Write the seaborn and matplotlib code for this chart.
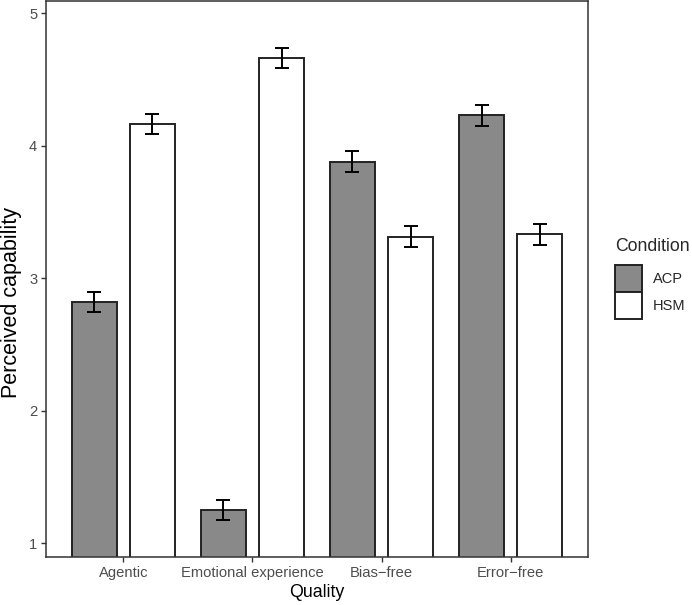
import matplotlib
matplotlib.use("Agg")
import matplotlib.pyplot as plt
import matplotlib.patches as mpatches
import seaborn as sns
import pandas as pd

qualities = ["Agentic", "Emotional experience", "Bias\u2212free", "Error\u2212free"]
conditions = ["ACP", "HSM"]
acp_means = [2.82, 1.25, 3.88, 4.23]
hsm_means = [4.165, 4.663, 3.314, 3.332]
acp_se = [0.076, 0.077, 0.078, 0.079]
hsm_se = [0.075, 0.079, 0.078, 0.079]

df = pd.DataFrame({
    "Quality": qualities * 2,
    "Condition": ["ACP"] * 4 + ["HSM"] * 4,
    "value": acp_means + hsm_means,
    "se": acp_se + hsm_se,
})

sns.set_style("white")
plt.rcParams["font.family"] = ["Liberation Sans", "DejaVu Sans"]

fig = plt.figure(figsize=(6.92, 6.05), dpi=100)
ax = fig.add_axes([46 / 692, (605 - 557) / 605, (588 - 46) / 692, 556 / 605])

palette = {"ACP": "#898989", "HSM": "#ffffff"}
sns.barplot(data=df, x="Quality", y="value", hue="Condition", order=qualities,
            hue_order=conditions, palette=palette, width=0.9, gap=0.222,
            edgecolor="#222222", linewidth=1.4, errorbar=None, legend=False,
            saturation=1, ax=ax)

# error bars at bar centers
for p in ax.patches:
    cx = p.get_x() + p.get_width() / 2
    qi = int(round(cx))
    cond = "ACP" if cx < qi else "HSM"
    row = df[(df.Quality == qualities[qi]) & (df.Condition == cond)].iloc[0]
    ax.errorbar(cx, row.value, yerr=row.se, fmt="none", ecolor="black",
                elinewidth=1.4, capsize=4.8, capthick=1.4, zorder=5)

ax.set_xlim(-0.6, 3.6)
ax.set_ylim(0.897, 5.093)
ax.set_yticks([1, 2, 3, 4, 5])
ax.set_yticklabels(["1", "2", "3", "4", "5"])
ax.set_xlabel("Quality", fontsize=12.8, color="black", labelpad=3)
ax.set_ylabel("")
fig.text(11.5 / 692, 1 - 302 / 605, "Perceived capability", rotation=90,
         ha="center", va="center", fontsize=15.5, color="black")
ax.tick_params(axis="both", which="both", length=3.8, width=1.0, color="#333333",
               labelsize=10.6, labelcolor="#4d4d4d", pad=2.5, bottom=True, left=True)
for s in ax.spines.values():
    s.set_visible(True)
    s.set_color("#333333")
    s.set_linewidth(1.1)

handles = [mpatches.Patch(facecolor=palette[c], edgecolor="#222222", linewidth=1.4, label=c)
           for c in conditions]
leg = fig.legend(handles=handles, title="Condition", loc="upper left",
                 bbox_to_anchor=(615 / 692, 1 - 238 / 605), frameon=False,
                 fontsize=10.5, title_fontsize=12.7, handlelength=1.85, handleheight=2.47,
                 labelspacing=0.0, handletextpad=0.75, borderaxespad=0, borderpad=0)
leg._legend_box.align = "left"
leg._legend_box.sep = 7

fig.savefig("out.png", dpi=100)
